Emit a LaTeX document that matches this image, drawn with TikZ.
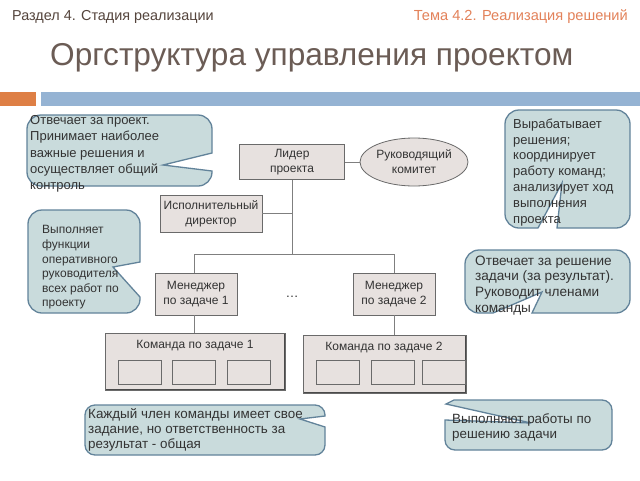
\documentclass[tikz,border=0pt]{standalone}
\usepackage{fontspec}
\setmainfont{Liberation Sans}
\usetikzlibrary{shapes.geometric}
\definecolor{calloutfill}{HTML}{C9DBDC}
\definecolor{calloutdraw}{HTML}{62839A}
\definecolor{boxfill}{HTML}{E7E1DF}
\definecolor{boxdraw}{HTML}{6A6A6A}
\definecolor{boxshade}{HTML}{4A4A4A}
\definecolor{linegray}{HTML}{7F7F7F}
\definecolor{headbrown}{HTML}{54443C}
\definecolor{headorange}{HTML}{E3825A}
\definecolor{titlecol}{HTML}{6B5C55}
\definecolor{barorange}{HTML}{DE7F45}
\definecolor{barblue}{HTML}{95B3D3}
\definecolor{txt}{HTML}{333333}
\begin{document}
\begin{tikzpicture}[x=1pt,y=-1pt,
  orgbox/.style={draw=boxdraw, fill=boxfill, line width=0.8pt, align=center,
    font=\fontsize{12}{15}\selectfont, text=txt, inner sep=0pt},
  teambox/.style={orgbox, path picture={
    \draw[boxshade, line width=1.6pt] (path picture bounding box.north east) -- (path picture bounding box.south east) -- (path picture bounding box.south west);}},
  memberbox/.style={draw=boxdraw, fill=boxfill, line width=0.8pt,
    minimum width=43pt, minimum height=24pt, inner sep=0pt},
  bubble/.style={draw=calloutdraw, fill=calloutfill, line width=1.3pt},
  btext/.style={anchor=north west, align=left, inner sep=0pt, text=txt},
  link/.style={draw=linegray, line width=0.8pt}]
\useasboundingbox (0,0) rectangle (640,480);
\fill[white] (0,0) rectangle (640,480);

% headers
\node[anchor=west, text=headbrown, font=\fontsize{14.4}{16}\selectfont, inner sep=0pt] (sec) at (12,17) {Раздел 4. Стадия реализации};
\node[anchor=east, text=headorange, font=\fontsize{14.6}{16}\selectfont, inner sep=0pt] (topic) at (628,17) {Тема 4.2. Реализация решений};
\node[anchor=west, text=titlecol, font=\fontsize{31.6}{36}\selectfont, inner sep=0pt] (title) at (50,58) {Оргструктура управления проектом};
\fill[barorange] (0,92) rectangle (36,106);
\fill[barblue] (41,92) rectangle (640,106);

% org chart
\node[orgbox, minimum width=105pt, minimum height=35pt] (lead) at (292,162) {Лидер\\проекта};
\node[ellipse, draw=boxdraw, fill=boxfill, line width=0.8pt, minimum width=108pt, minimum height=48pt,
  align=center, font=\fontsize{12}{15}\selectfont, text=txt, inner sep=0pt] (comm) at (414,162) {Руководящий\\комитет};
\node[orgbox, minimum width=102pt, minimum height=37pt] (exec) at (211,213.5) {Исполнительный\\директор};
\node[orgbox, minimum width=82pt, minimum height=42pt] (m1) at (196,294) {Менеджер\\по задаче 1};
\node[orgbox, minimum width=82pt, minimum height=42pt] (m2) at (394,294) {Менеджер\\по задаче 2};
\node[font=\fontsize{13}{15}\selectfont, text=txt] (dots) at (292,297) {…};

\node[teambox, minimum width=180pt, minimum height=57pt] (t1) at (195,361.5) {};
\node[font=\fontsize{12}{15}\selectfont, text=txt, inner sep=0pt] (t1lbl) at (195,346) {Команда по задаче 1};
\node[memberbox] (t1a) at (139.5,372) {};
\node[memberbox] (t1b) at (194,372) {};
\node[memberbox] (t1c) at (249,372) {};
\node[teambox, minimum width=163pt, minimum height=58pt] (t2) at (384.5,364) {};
\node[font=\fontsize{12}{15}\selectfont, text=txt, inner sep=0pt] (t2lbl) at (384,347) {Команда по задаче 2};
\node[memberbox] (t2a) at (337.5,372) {};
\node[memberbox] (t2b) at (392.5,372) {};
\node[memberbox] (t2c) at (444,372) {};

\coordinate (busL) at (194,254);
\coordinate (busR) at (394,254);
\draw[link] (lead.south) -- (lead.south |- busL);
\draw[link] (busL) -- (busR);
\draw[link] (exec.east) -- (exec.east -| lead.south);
\draw[link] (lead.east) -- (comm.west);
\draw[link] (busL) -- (m1.north -| busL);
\draw[link] (busR) -- (m2.north);
\draw[link] (m1.south -| busL) -- (t1.north -| busL);
\draw[link] (m2.south) -- (t2.north -| m2.south);

% callouts
\path[bubble] (120,115) [rounded corners=14] -- (212,115) [sharp corners] -- (212,153) -- (163,165) -- (212,171) [rounded corners=14] -- (212,186) -- (27,186) -- (27,115) -- cycle;
\node[btext, font=\fontsize{13}{16.2}\selectfont] (b1t) at (30,115.5) {Отвечает за проект.\\Принимает наиболее\\важные решения и\\осуществляет общий\\контроль};

\path[bubble] (560,110) [rounded corners=14] -- (630,110) -- (630,228) [sharp corners] -- (557,228) -- (562,183) -- (538,228) [rounded corners=14] -- (505,228) -- (505,110) -- cycle;
\node[btext, font=\fontsize{13}{15.8}\selectfont] (b2t) at (513,118.5) {Вырабатывает\\решения;\\координирует\\работу команд;\\анализирует ход\\выполнения\\проекта};

\path[bubble] (85,210) [rounded corners=14] -- (140,210) [sharp corners] -- (140,262) -- (113,267) -- (140,297) [rounded corners=14] -- (140,313) -- (28,313) -- (28,210) -- cycle;
\node[btext, font=\fontsize{12}{14.6}\selectfont] (b3t) at (42,225.5) {Выполняет\\функции\\оперативного\\руководителя\\всех работ по\\проекту};

\path[bubble] (550,250) [rounded corners=14] -- (630,250) -- (630,313) [sharp corners] -- (532,313) -- (542,292) -- (493,313) [rounded corners=14] -- (465,313) -- (465,250) -- cycle;
\node[btext, font=\fontsize{13.6}{15.6}\selectfont] (b4t) at (475,255.5) {Отвечает за решение\\задачи (за результат).\\Руководит членами\\команды};

\path[bubble] (200,405) [rounded corners=10] -- (325,405) [sharp corners] -- (325,416) -- (300,419) -- (325,427) [rounded corners=10] -- (325,455) -- (85,455) -- (85,405) -- cycle;
\node[btext, font=\fontsize{13.4}{15}\selectfont] (b5t) at (88,408.5) {Каждый член команды имеет свое\\задание, но ответственность за\\результат - общая};

\path[bubble] (530,400) [rounded corners=10] -- (612,400) -- (612,450) -- (445,450) [sharp corners] -- (445,420) -- (531,423) -- (446,404) -- (454,400) -- cycle;
\node[btext, font=\fontsize{13.4}{15}\selectfont] (b6t) at (452,413.5) {Выполняют работы по\\решению задачи};
\end{tikzpicture}
\end{document}
